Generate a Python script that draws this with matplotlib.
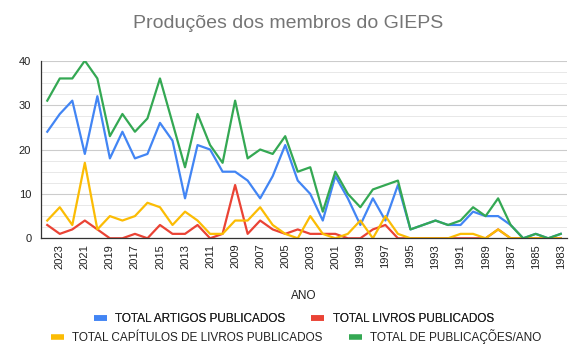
import matplotlib
matplotlib.use("Agg")
import matplotlib.pyplot as plt
from matplotlib.lines import Line2D
from matplotlib.ticker import MultipleLocator

plt.rcParams['font.family'] = ['Liberation Sans', 'DejaVu Sans']

years = list(range(2024, 1982, -1))
artigos = [24, 28, 31, 19, 32, 18, 24, 18, 19, 26, 22, 9, 21, 20, 15, 15, 13, 9, 14, 21, 13,
           10, 4, 14, 9, 3, 9, 4, 12, 2, 3, 4, 3, 3, 6, 5, 5, 3, 0, 1, 0, 1]
livros = [3, 1, 2, 4, 2, 0, 0, 1, 0, 3, 1, 1, 3, 0, 1, 12, 1, 4, 2, 1, 2,
          1, 1, 1, 0, 0, 2, 3, 0, 0, 0, 0, 0, 0, 0, 0, 2, 0, 0, 0, 0, 0]
capitulos = [4, 7, 3, 17, 2, 5, 4, 5, 8, 7, 3, 6, 4, 1, 1, 4, 4, 7, 3, 1, 0,
             5, 1, 0, 1, 4, 0, 5, 1, 0, 0, 0, 0, 1, 1, 0, 2, 0, 0, 0, 0, 0]
total = [31, 36, 36, 40, 36, 23, 28, 24, 27, 36, 26, 16, 28, 21, 17, 31, 18, 20, 19, 23, 15,
         16, 6, 15, 10, 7, 11, 12, 13, 2, 3, 4, 3, 4, 7, 5, 9, 3, 0, 1, 0, 1]

series = [
    ("TOTAL ARTIGOS PUBLICADOS", artigos, "#4285F4"),
    ("TOTAL LIVROS PUBLICADOS", livros, "#EA4335"),
    ("TOTAL CAPÍTULOS DE LIVROS PUBLICADOS", capitulos, "#FBBC04"),
    ("TOTAL DE PUBLICAÇÕES/ANO", total, "#34A853"),
]

fig = plt.figure(figsize=(5.86, 3.62), dpi=100)
ax = fig.add_axes([41/586, 1 - 238.3/362, (567-41)/586, (238.3-60.7)/362])

x = list(range(len(years)))
for name, vals, col in series:
    ax.plot(x, vals, color=col, lw=1.6, label=name, solid_joinstyle='round')

ax.set_xlim(-0.5, len(years) - 0.5)
ax.set_ylim(0, 40)
ax.yaxis.set_major_locator(MultipleLocator(10))
ax.yaxis.set_minor_locator(MultipleLocator(2.5))
ax.grid(which='major', axis='y', color='#cccccc', lw=0.8)
ax.grid(which='minor', axis='y', color='#e8e8e8', lw=0.7)
ax.set_axisbelow(True)
for s in ['top', 'right']:
    ax.spines[s].set_visible(False)
ax.spines['left'].set_color('#333333')
ax.spines['bottom'].set_color('#333333')
ax.spines['left'].set_linewidth(0.9)
ax.spines['bottom'].set_linewidth(0.9)

tick_pos = [i for i in x if i % 2 == 1]
ax.set_xticks(tick_pos)
ax.set_xticklabels([str(years[i]) for i in tick_pos], rotation=90, fontsize=8, color='#222222')
ax.tick_params(axis='x', length=0, pad=4)
ax.tick_params(axis='y', which='both', length=0, labelsize=8, labelcolor='#222222', pad=7)

ax.set_xlabel("ANO", fontsize=8.5, color='#222222', labelpad=15)
fig.text(288/586, 1 - 23/362, "Produções dos membros do GIEPS", ha='center', va='center',
         fontsize=14, color='#757575')

handles = [Line2D([0], [0], color=c, lw=4, solid_capstyle='butt') for _, _, c in series]
labels = [n for n, _, _ in series]
leg1 = fig.legend(handles[:2], labels[:2], ncol=2, loc='center', bbox_to_anchor=(294/586, 1 - 319/362),
                  frameon=False, fontsize=8.5, handlelength=1.1, handletextpad=0.7, columnspacing=2.2,
                  labelcolor='#222222')
leg2 = fig.legend(handles[2:], labels[2:], ncol=2, loc='center', bbox_to_anchor=(296/586, 1 - 337/362),
                  frameon=False, fontsize=8.5, handlelength=1.1, handletextpad=0.7, columnspacing=2.2,
                  labelcolor='#222222')
fig.add_artist(leg1)

fig.savefig("out.png", dpi=100)
